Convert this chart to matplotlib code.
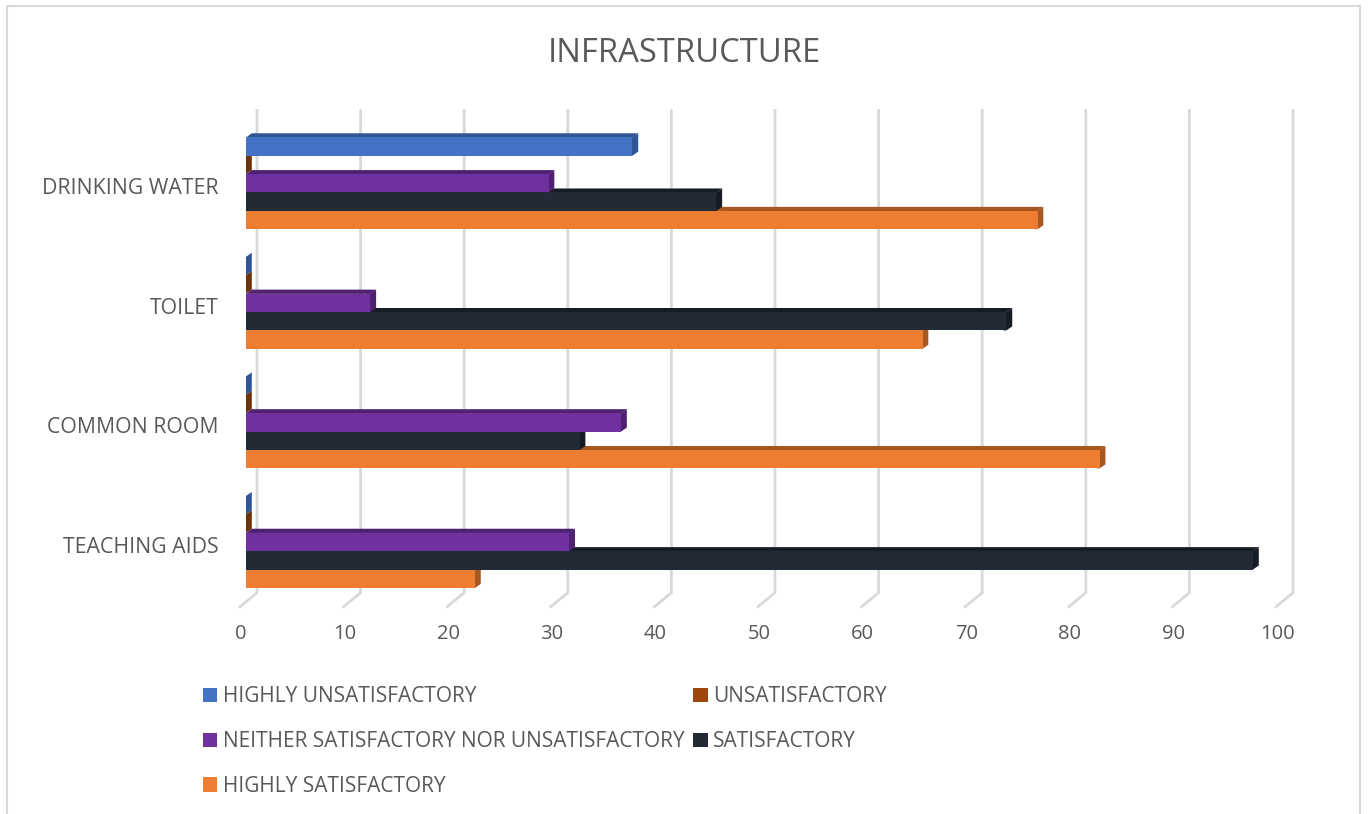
import matplotlib
matplotlib.use('Agg')
import matplotlib.pyplot as plt
from matplotlib.patches import Patch, Rectangle
from matplotlib.transforms import ScaledTranslation

plt.rcParams['font.family'] = ['Open Sans', 'DejaVu Sans']

# Data
categories = ['DRINKING WATER', 'TOILET', 'COMMON ROOM', 'TEACHING AIDS']
highly_unsatisfactory = [37.3, 0, 0, 0]
unsatisfactory = [0, 0, 0, 0]
neither = [29.2, 12.0, 36.2, 31.2]
satisfactory = [45.4, 73.4, 32.2, 97.2]
highly_satisfactory = [76.4, 65.3, 82.4, 22.1]
ticks = [0, 10, 20, 30, 40, 50, 60, 70, 80, 90, 100]

series_names = ['HIGHLY UNSATISFACTORY', 'UNSATISFACTORY',
                'NEITHER SATISFACTORY NOR UNSATISFACTORY', 'SATISFACTORY',
                'HIGHLY SATISFACTORY']
series_values = [highly_unsatisfactory, unsatisfactory, neither, satisfactory,
                 highly_satisfactory]
front_colors = ['#4472C4', '#9E480E', '#7030A0', '#222A35', '#ED7D31']
side_colors = ['#2F5597', '#6E3209', '#4E2270', '#171C24', '#A65722']

W, H = 1369, 814
fig = plt.figure(figsize=(W / 100, H / 100), dpi=100, facecolor='white')

# chart frame, runs off the bottom of the picture
fig.add_artist(Rectangle((7 / W, -0.05), 1353 / W, 1.05 - 6 / H, transform=fig.transFigure,
                         facecolor='white', edgecolor='#D9D9D9', linewidth=1.5, zorder=-1))

# axes = front plane of the fake 3d box
left, right, top, bottom = 246, 1282, 123.5, 601.7
ax = fig.add_axes([left / W, 1 - bottom / H, (right - left) / W, (bottom - top) / H])
ax.set_xlim(0, 100)
ax.set_ylim(3.5, -0.5)
ax.patch.set_alpha(0)
for s in ax.spines.values():
    s.set_visible(False)

px_x = 100 / (right - left)
px_y = 4 / (bottom - top)
depth_x = 5.8 * px_x
depth_y = 4 * px_y
bar_h = 18.4 * px_y

# back wall gridlines with the little diagonal foot
wall_dx = 11 * px_x
wall_top = -0.5 - 13 * px_y
wall_bot = 3.5 - 9 * px_y
foot_dx = -6 * px_x
foot_bot = 3.5 + 5 * px_y
for t in ticks:
    ax.plot([t + wall_dx, t + wall_dx, t + foot_dx], [wall_top, wall_bot, foot_bot],
            color='#D9D9D9', lw=2, clip_on=False, zorder=1, solid_joinstyle='miter')

# order so the overlaps of the 3d bars come out like the original
draw_order = [4, 3, 1, 2, 0]
for z, i in enumerate(draw_order):
    offset = (i - 2) * bar_h
    for c, v in enumerate(series_values[i]):
        y0 = c + offset - bar_h / 2
        y1 = c + offset + bar_h / 2
        zo = 3 + z
        # faces reach a little under the front so no seam shows
        seam = min(v, 0.3)
        ax.fill([0, depth_x, v + depth_x, v], [y0 + 0.002, y0 - depth_y, y0 - depth_y, y0 + 0.002],
                color=side_colors[i], lw=0, clip_on=False, zorder=zo)
        ax.fill([v - seam, v, v + depth_x, v + depth_x, v, v - seam],
                [y0, y0, y0 - depth_y, y1 - depth_y, y1, y1],
                color=side_colors[i], lw=0, clip_on=False, zorder=zo)
        ax.barh(c + offset, v, height=bar_h, color=front_colors[i], lw=0, zorder=zo)

ax.set_xticks(ticks)
ax.set_yticks(range(len(categories)))
ax.set_yticklabels(categories)
ax.tick_params(axis='x', length=0, pad=16, labelsize=14.5, labelcolor='#595959')
ax.tick_params(axis='y', length=0, pad=20, labelsize=15.3, labelcolor='#595959')
for lab in ax.get_xticklabels():
    lab.set_transform(lab.get_transform() + ScaledTranslation(-0.05, 0, fig.dpi_scale_trans))
for lab in ax.get_yticklabels():
    lab.set_transform(lab.get_transform() + ScaledTranslation(0, -0.03, fig.dpi_scale_trans))

fig.text(684 / W, 1 - 53 / H, 'INFRASTRUCTURE', fontsize=23.6, color='#595959',
         ha='center', va='center')

# legend fills by column, so list the left column first
legend_order = [0, 2, 4, 1, 3]
handles = [Patch(facecolor=front_colors[i], label=series_names[i]) for i in legend_order]
fig.legend(handles=handles, ncol=2, loc='upper left',
           bbox_to_anchor=(197 / W, 1 - 680 / H), frameon=False, fontsize=15,
           labelcolor='#595959', handlelength=0.68, handleheight=0.68, handletextpad=0.27,
           columnspacing=0.42, labelspacing=1.14, borderpad=0.3, borderaxespad=0)

fig.savefig('out.png', dpi=100)
